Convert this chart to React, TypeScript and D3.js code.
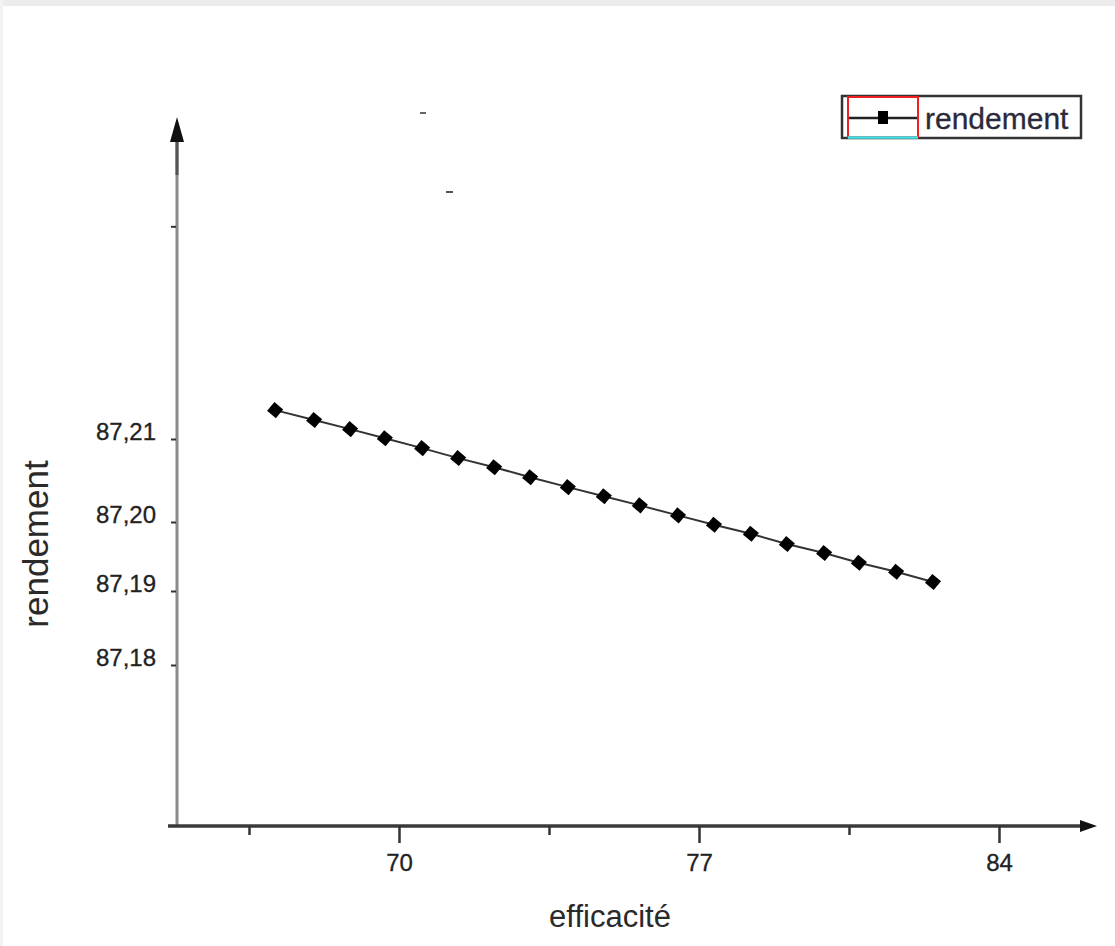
import React, { useRef, useEffect } from 'react';
import * as d3 from 'd3';

// values
const efficacite = [67.11, 68.02, 68.86, 69.67, 70.54, 71.38, 72.22, 73.06, 73.94, 74.78, 75.62, 76.51, 77.35, 78.21, 79.05, 79.92, 80.73, 81.60, 82.46];
const rendement = [87.2138, 87.2125, 87.2113, 87.2101, 87.2089, 87.2077, 87.2066, 87.2054, 87.2042, 87.2031, 87.2020, 87.2008, 87.1996, 87.1983, 87.1968, 87.1955, 87.1941, 87.1928, 87.1913];

const xTicks = [70, 77, 84];
const xMinorTicks = [66.5, 73.5, 80.5];
const yTicks = [87.18, 87.19, 87.2, 87.21];
const yBlankTicks = [87.238];
const seriesName = 'rendement';
const xTitle = 'efficacité';
const yTitle = 'rendement';

export default function App() {
  const svgRef = useRef<SVGSVGElement>(null);

  useEffect(() => {
    const width = 1115;
    const height = 946;
    const font = '"Liberation Sans", Arial, sans-serif';
    const svg = d3.select(svgRef.current);
    svg.selectAll('*').remove();
    svg.attr('width', width).attr('height', height);

    // page background + grey strip on top
    svg.append('rect').attr('width', width).attr('height', height).attr('fill', '#fff');
    svg.append('rect').attr('width', width).attr('height', 6).attr('fill', '#ececec');
    svg.append('rect').attr('width', 3).attr('height', height).attr('fill', '#f2f2f2');

    const x = d3.scaleLinear().domain([70, 84]).range([399, 999]);
    // the y axis of the original is not evenly spaced, so a piecewise scale
    const y = d3.scaleLinear()
      .domain([87.158, 87.18, 87.19, 87.2, 87.21, 87.252])
      .range([826, 665, 591, 522, 439, 120]);

    const axisY = 826;
    const axisX = 177;

    // y axis line + arrow
    svg.append('line')
      .attr('x1', axisX).attr('x2', axisX)
      .attr('y1', 138).attr('y2', axisY)
      .attr('stroke', '#8a8a8a').attr('stroke-width', 3);
    svg.append('line')
      .attr('x1', axisX).attr('x2', axisX)
      .attr('y1', 130).attr('y2', 175)
      .attr('stroke', '#555').attr('stroke-width', 3);
    svg.append('path')
      .attr('d', `M${axisX},117 L${axisX + 7},142 L${axisX - 7},142 Z`)
      .attr('fill', '#111');

    // x axis line + arrow
    svg.append('line')
      .attr('x1', 168).attr('x2', 1084)
      .attr('y1', axisY).attr('y2', axisY)
      .attr('stroke', '#3a3a3a').attr('stroke-width', 3.5);
    svg.append('path')
      .attr('d', `M1097,${axisY} L1080,${axisY - 6} L1080,${axisY + 6} Z`)
      .attr('fill', '#111');

    // y ticks
    const fmt = d3.format('.2f');
    const gy = svg.append('g')
      .attr('transform', `translate(${axisX - 1},0)`)
      .call(d3.axisLeft(y)
        .tickValues([...yTicks, ...yBlankTicks])
        .tickSizeOuter(0)
        .tickSize(5)
        .tickPadding(15)
        .tickFormat((d: any) => (yBlankTicks.includes(d) ? '' : fmt(d).replace('.', ','))));
    gy.select('.domain').remove();
    gy.selectAll('.tick line').attr('stroke', '#333').attr('stroke-width', 2);
    gy.selectAll('.tick text')
      .attr('y', -7)
      .attr('fill', '#222')
      .attr('stroke', '#222').attr('stroke-width', 0.3)
      .style('font-family', font)
      .style('font-size', '24px');

    // x ticks (major with labels, minor without)
    const gx = svg.append('g')
      .attr('transform', `translate(0,${axisY})`)
      .call(d3.axisBottom(x).tickValues(xTicks).tickSizeOuter(0).tickSize(17).tickPadding(11).tickFormat(d3.format('d') as any));
    gx.select('.domain').remove();
    gx.selectAll('.tick line').attr('stroke', '#333').attr('stroke-width', 2.5);
    gx.selectAll('.tick text')
      .attr('fill', '#222')
      .attr('stroke', '#222').attr('stroke-width', 0.3)
      .style('font-family', font)
      .style('font-size', '24px');

    const gxm = svg.append('g')
      .attr('transform', `translate(0,${axisY})`)
      .call(d3.axisBottom(x).tickValues(xMinorTicks).tickSizeOuter(0).tickSize(9).tickFormat(() => ''));
    gxm.select('.domain').remove();
    gxm.selectAll('.tick line').attr('stroke', '#333').attr('stroke-width', 2.5);

    // axis titles
    svg.append('text')
      .attr('x', 610).attr('y', 927)
      .attr('text-anchor', 'middle')
      .attr('fill', '#2a2a2a')
      .style('font-family', font)
      .style('font-size', '31px')
      .text(xTitle);
    svg.append('text')
      .attr('transform', 'translate(48,544) rotate(-90)')
      .attr('text-anchor', 'middle')
      .attr('fill', '#2a2a2a')
      .style('font-family', font)
      .style('font-size', '35px')
      .text(yTitle);

    // series
    const pts = efficacite.map((v, i) => [v, rendement[i]] as [number, number]);
    const line = d3.line<[number, number]>().x(d => x(d[0])).y(d => y(d[1]));
    svg.append('path')
      .datum(pts)
      .attr('d', line)
      .attr('fill', 'none')
      .attr('stroke', '#333')
      .attr('stroke-width', 2);

    const marker = d3.symbol().type(d3.symbolSquare).size(130);
    svg.append('g')
      .selectAll('path')
      .data(pts)
      .join('path')
      .attr('d', marker)
      .attr('transform', d => `translate(${x(d[0])},${y(d[1])}) rotate(40)`)
      .attr('fill', '#000');

    // stray dashes seen in the original
    svg.append('rect').attr('x', 420).attr('y', 112).attr('width', 6).attr('height', 2).attr('fill', '#666');
    svg.append('rect').attr('x', 446).attr('y', 191).attr('width', 7).attr('height', 2).attr('fill', '#555');

    // legend
    const lg = svg.append('g');
    lg.append('rect')
      .attr('x', 842).attr('y', 96).attr('width', 239).attr('height', 42)
      .attr('fill', '#fff').attr('stroke', '#333').attr('stroke-width', 2.5);
    lg.append('rect')
      .attr('x', 848).attr('y', 97).attr('width', 70).attr('height', 40)
      .attr('fill', 'none').attr('stroke', '#f02020').attr('stroke-width', 2);
    lg.append('line')
      .attr('x1', 848).attr('x2', 918).attr('y1', 137.5).attr('y2', 137.5)
      .attr('stroke', '#40e8f0').attr('stroke-width', 2.5);
    lg.append('line')
      .attr('x1', 849).attr('x2', 917).attr('y1', 118).attr('y2', 118)
      .attr('stroke', '#222').attr('stroke-width', 2.5);
    lg.append('rect')
      .attr('x', 878).attr('y', 111).attr('width', 10).attr('height', 13)
      .attr('fill', '#000');
    lg.append('text')
      .attr('x', 925).attr('y', 129)
      .attr('fill', '#2a2a3a')
      .attr('stroke', '#2a2a3a').attr('stroke-width', 0.3)
      .style('font-family', font)
      .style('font-size', '30px')
      .text(seriesName);
  }, []);

  return (
    <svg ref={svgRef} style={{ position: 'absolute', left: 0, top: 0, display: 'block' }}></svg>
  );
}
